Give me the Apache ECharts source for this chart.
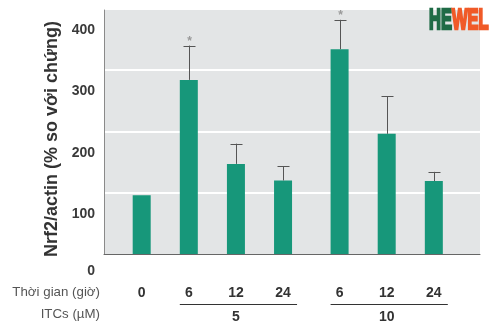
<!DOCTYPE html>
<html>
<head>
<meta charset="utf-8">
<script src="https://cdn.jsdelivr.net/npm/echarts@6/dist/echarts.min.js"></script>
<style>html,body{margin:0;padding:0;background:#fff}#c{width:500px;height:329px}</style>
</head>
<body>
<div id="c"></div>
<script>
// ---- data ----
var timeLabels = ["0", "6", "12", "24", "6", "12", "24"];
var concGroups = ["", "5", "5", "5", "10", "10", "10"];
var meanValues = [131, 319, 182, 155, 369, 231, 154];
var errValues  = [0, 56, 33, 23, 48, 61, 15];
var significant = [false, true, false, false, true, false, false];
var yTickLabels = [100, 200, 300, 400];
var yGridValues = [135, 235, 335];
var yAxisTitle = "Nrf2/actin (% so với chứng)";
var rowTimeTitle = "Thời gian (giờ)";
var rowConcTitle = "ITCs (µM)";

// ---- derived positions (extra gap between concentration groups) ----
var GROUP_GAP = 0.2;
var xPos = [];
var gi = 0;
for (var i = 0; i < timeLabels.length; i++) {
  if (i > 0 && concGroups[i] !== concGroups[i - 1]) gi++;
  xPos.push(i + (gi > 1 ? (gi - 1) * GROUP_GAP : 0));
}
var barData = meanValues.map(function (v, i) { return [xPos[i], v]; });
var errData = meanValues.map(function (v, i) { return [xPos[i], v, errValues[i], significant[i] ? 1 : 0]; });
var groupData = [];
(function () {
  var start = null;
  for (var i = 0; i <= concGroups.length; i++) {
    var g = concGroups[i];
    if (i === concGroups.length || (i > 0 && g !== concGroups[i - 1])) {
      if (start !== null && concGroups[start] !== "") {
        var mid = Math.floor((start + i - 1) / 2);
        groupData.push([xPos[start], xPos[i - 1], xPos[mid], concGroups[start]]);
      }
      start = i;
    } else if (start === null) start = i;
  }
})();

var FONT = "'Liberation Sans', Arial, sans-serif";
var YMIN = 35, YMAX = 433;

var chart = echarts.init(document.getElementById('c'), null, { renderer: 'canvas' });
chart.setOption({
  animation: false,
  grid: {
    left: 104, right: 20, top: 10, bottom: 75,
    show: true, backgroundColor: '#e3e5e6', borderWidth: 0
  },
  xAxis: {
    type: 'value', min: -0.8, max: 7.18,
    axisLine: { show: true, onZero: false, lineStyle: { color: '#666', width: 1 } },
    axisTick: { show: false },
    splitLine: { show: false },
    axisLabel: {
      customValues: xPos,
      margin: 32,
      fontFamily: FONT, fontSize: 14, fontWeight: 'bold', color: '#333',
      formatter: function (v) {
        for (var i = 0; i < xPos.length; i++) if (Math.abs(xPos[i] - v) < 1e-6) return timeLabels[i];
        return '';
      }
    }
  },
  yAxis: {
    type: 'value', min: YMIN, max: YMAX,
    axisLine: { show: true, onZero: false, lineStyle: { color: '#8a8a8a', width: 1 } },
    axisTick: { show: false, customValues: yGridValues },
    splitLine: { show: true, lineStyle: { color: '#ffffff', width: 2 } },
    axisLabel: {
      customValues: yTickLabels, margin: 9,
      fontFamily: FONT, fontSize: 14, fontWeight: 'bold', color: '#3a3a3a'
    }
  },
  series: [
    {
      type: 'bar', data: barData, barWidth: 18,
      itemStyle: { color: '#17977a' }, z: 2
    },
    {
      type: 'custom', data: errData, z: 3,
      renderItem: function (params, api) {
        var x = api.value(0), m = api.value(1), e = api.value(2), s = api.value(3);
        var children = [];
        if (e > 0) {
          var p0 = api.coord([x, m]);
          var p1 = api.coord([x, m + e]);
          var cx = Math.round(p0[0]) + 0.5;
          children.push({ type: 'line', shape: { x1: cx, y1: p0[1], x2: cx, y2: p1[1] },
            style: { stroke: '#555', lineWidth: 1 } });
          children.push({ type: 'line', shape: { x1: cx - 6, y1: Math.round(p1[1]) + 0.5, x2: cx + 6, y2: Math.round(p1[1]) + 0.5 },
            style: { stroke: '#555', lineWidth: 1 } });
          if (s) {
            children.push({ type: 'text', style: { text: '*', x: cx, y: p1[1] - 4, align: 'center', verticalAlign: 'middle',
              fill: '#999', font: 'bold 12px ' + FONT } });
          }
        }
        return { type: 'group', children: children };
      }
    },
    {
      type: 'custom', data: groupData, z: 3, clip: false,
      renderItem: function (params, api) {
        var a = api.coord([api.value(0), YMIN]);
        var b = api.coord([api.value(1), YMIN]);
        var c = api.coord([api.value(2), YMIN]);
        var y = Math.round(a[1]) + 50.5;
        return { type: 'group', children: [
          { type: 'line', shape: { x1: a[0] - 9, y1: y, x2: b[0] + 14, y2: y }, style: { stroke: '#333', lineWidth: 1 } },
          { type: 'text', style: { text: groupData[params.dataIndex][3], x: c[0], y: y + 13, align: 'center', verticalAlign: 'middle',
            fill: '#333', font: 'bold 14px ' + FONT } }
        ] };
      }
    }
  ],
  graphic: [
    { type: 'text', x: 52, y: 139, rotation: Math.PI / 2, style: { text: yAxisTitle, align: 'center', verticalAlign: 'middle',
        fill: '#333', font: 'bold 18px ' + FONT } },
    { type: 'text', x: 95, y: 271, style: { text: '0', align: 'right', verticalAlign: 'middle', fill: '#3a3a3a', font: 'bold 14px ' + FONT } },
    { type: 'text', x: 100, y: 292, style: { text: rowTimeTitle, align: 'right', verticalAlign: 'middle', fill: '#555', font: '13.3px ' + FONT } },
    { type: 'text', x: 100, y: 314, style: { text: rowConcTitle, align: 'right', verticalAlign: 'middle', fill: '#555', font: '13.3px ' + FONT } },
    { type: 'text', x: 429, y: 21, scaleX: 0.55, style: {
        text: '{a|HE}{b|WEL}', verticalAlign: 'middle', align: 'left',
        rich: {
          a: { fill: '#1f6b46', stroke: '#1f6b46', lineWidth: 2.5, font: 'bold 30px ' + FONT },
          b: { fill: '#f05a28', stroke: '#f05a28', lineWidth: 2.5, font: 'bold 30px ' + FONT }
        }
    } }
  ]
});
</script>
</body>
</html>
